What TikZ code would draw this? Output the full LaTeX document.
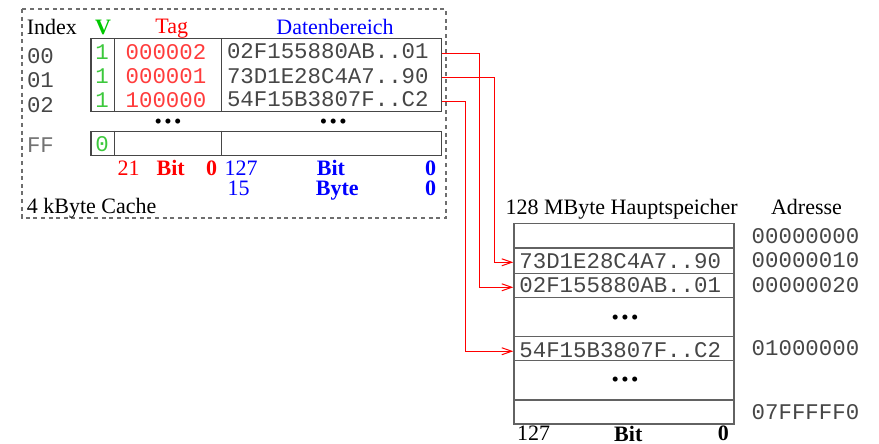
\documentclass[tikz,border=0pt]{standalone}
\usepackage{fontspec}
\setmainfont{Liberation Serif}
\setmonofont{Liberation Mono}
\usetikzlibrary{arrows.meta}
\definecolor{vgreen}{RGB}{0,200,0}
\definecolor{lgreen}{RGB}{60,200,60}
\definecolor{tred}{RGB}{255,0,0}
\definecolor{lred}{RGB}{255,60,60}
\definecolor{dblue}{RGB}{0,0,255}
\definecolor{monogray}{RGB}{70,70,70}
\definecolor{framegray}{RGB}{70,70,70}
\definecolor{dashgray}{RGB}{110,110,110}
\newcommand{\mydots}{•\kern1.2pt•\kern1.2pt•}
\tikzset{
  lbl/.style={inner sep=0pt, font=\fontsize{11pt}{13pt}\selectfont},
  lblb/.style={inner sep=0pt, font=\fontsize{11pt}{13pt}\selectfont\bfseries},
  mono/.style={inner sep=0pt, font=\fontsize{11.2pt}{13pt}\selectfont\ttfamily, text=monogray},
  frame/.style={draw=framegray, line width=0.6pt},
  cachebox/.style={frame, anchor=north west, minimum width=175.35pt, inner sep=0pt},
  memcell/.style={draw=framegray!85, line width=0.6pt, minimum width=110pt, inner sep=0pt, anchor=north west},
  conn/.style={draw=red, line width=0.5pt, -{Straight Barb[length=5pt,width=3.5pt]}},
  dotrow/.style={inner sep=0pt, font=\fontsize{10.5pt}{13pt}\selectfont},
}
\begin{document}
\begin{tikzpicture}[x=0.5pt,y=-0.5pt]
\useasboundingbox (0,0) rectangle (879,444);
% dashed cache frame
\draw[dashgray, line width=0.6pt, dash pattern=on 2pt off 1.8pt] (22,9) rectangle (446,218);
% headers
\node[lbl, anchor=west] (hidx) at (26.5,26.7) {Index};
\node[lblb, text=vgreen] (hv) at (103,27) {V};
\node[lbl, text=tred] (htag) at (171.7,29) {Tag};
\node[lbl, text=dblue] (hdat) at (335,26.7) {Datenbereich};
% cache tables
\node[cachebox, minimum height=36.2pt] (ctab) at (90.3,38.3) {};
\draw[frame] (114.7,38.3) -- (114.7,110.7);
\draw[frame] (221.7,38.3) -- (221.7,110.7);
\node[cachebox, minimum height=12.3pt] (cff) at (90.3,130.7) {};
\draw[frame] (114.7,130.7) -- (114.7,155.3);
\draw[frame] (221.7,130.7) -- (221.7,155.3);
% index labels
\node[mono, anchor=west] (i0) at (26.6,56.3) {00};
\node[mono, anchor=west] (i1) at (26.6,80.3) {01};
\node[mono, anchor=west] (i2) at (26.6,105) {02};
\node[mono, anchor=west, text=black!55] (iff) at (26.6,145) {FF};
% valid bits
\node[mono, text=lgreen] (v0) at (102,51.7) {1};
\node[mono, text=lgreen] (v1) at (102,76.3) {1};
\node[mono, text=lgreen] (v2) at (102,100.3) {1};
\node[mono, text=lgreen] (vff) at (102,143.7) {0};
% tags
\node[mono, text=lred] (t0) at (166,51.7) {000002};
\node[mono, text=lred] (t1) at (166,76.3) {000001};
\node[mono, text=lred] (t2) at (166,100.3) {100000};
% data
\node[mono, anchor=west] (d0) at (226.6,51) {02F155880AB..01};
\node[mono, anchor=west] (d1) at (226.6,75.8) {73D1E28C4A7..90};
\node[mono, anchor=west] (d2) at (226.6,99.2) {54F15B3807F..C2};
% dots
\node[dotrow] (cdots1) at (168,123.5) {\mydots};
\node[dotrow] (cdots2) at (333.3,123.5) {\mydots};
% bit labels
\node[lbl, text=tred] (b21) at (128.7,168.3) {21};
\node[lblb, text=tred] (bbit) at (170.7,168.3) {Bit};
\node[lblb, text=tred] (bzr) at (211.7,168.3) {0};
\node[lbl, text=dblue] (b127) at (241,168.3) {127};
\node[lblb, text=dblue] (bbitb) at (331,168.3) {Bit};
\node[lblb, text=dblue] (bzb) at (430.7,168.3) {0};
\node[lbl, text=dblue, anchor=west] (b15) at (227.3,188.3) {15};
\node[lblb, text=dblue] (bbyte) at (337.3,190.5) {Byte};
\node[lblb, text=dblue] (bzc) at (430.7,188.3) {0};
\node[lbl, anchor=west] (ccap) at (26.5,208.5) {4 kByte Cache};
% main memory
\node[lbl] (mtitle) at (621.7,209) {128 MByte Hauptspeicher};
\node[lbl] (madr) at (806.5,207) {Adresse};
\node[memcell, minimum height=12pt] (mc0) at (513.3,223.3) {};
\node[memcell, minimum height=12.7pt] (mc1) at (513.3,247.3) {};
\node[memcell, minimum height=12pt] (mc2) at (513.3,272.7) {};
\node[memcell, minimum height=19.5pt] (mc3) at (513.3,296.7) {};
\node[memcell, minimum height=12.15pt] (mc4) at (513.3,335.7) {};
\node[memcell, minimum height=19.65pt] (mc5) at (513.3,360) {};
\node[memcell, minimum height=12pt] (mc6) at (513.3,399.3) {};
\node[mono, anchor=west] (mt1) at (519,260.8) {73D1E28C4A7..90};
\node[mono, anchor=west] (mt2) at (519,285.5) {02F155880AB..01};
\node[mono, anchor=west] (mt4) at (519,350.3) {54F15B3807F..C2};
\node[dotrow] (mdots1) at (625,319.5) {\mydots};
\node[dotrow] (mdots2) at (625,381.8) {\mydots};
% addresses
\node[mono, anchor=west] (a0) at (751.3,235.7) {00000000};
\node[mono, anchor=west] (a1) at (751.3,260) {00000010};
\node[mono, anchor=west] (a2) at (751.3,285) {00000020};
\node[mono, anchor=west] (a4) at (751.3,348) {01000000};
\node[mono, anchor=west] (a6) at (751.3,411.7) {07FFFFF0};
% bottom labels
\node[lbl] (m127) at (533.7,433.5) {127};
\node[lblb] (mbit) at (628.3,433.5) {Bit};
\node[lblb] (mzero) at (723.3,433.5) {0};
% connectors
\coordinate (bx0) at (479.7,0);
\coordinate (bx1) at (494.3,0);
\coordinate (bx2) at (465,0);
\coordinate (r0) at ([yshift=-1.15pt]d0.center);
\coordinate (r1) at ([yshift=-0.75pt]d1.center);
\coordinate (r2) at ([yshift=-1.05pt]d2.center);
\coordinate (e1) at ([yshift=-0.85pt]mc1.west);
\coordinate (e2) at ([yshift=-1pt]mc2.west);
\coordinate (e4) at ([yshift=-1.4pt]mc4.west);
\draw[conn] (r0 -| ctab.east) -- (r0 -| bx0) -- (bx0 |- e2) -- (e2);
\draw[conn] (r1 -| ctab.east) -- (r1 -| bx1) -- (bx1 |- e1) -- (e1);
\draw[conn] (r2 -| ctab.east) -- (r2 -| bx2) -- (bx2 |- e4) -- (e4);
\end{tikzpicture}
\end{document}
